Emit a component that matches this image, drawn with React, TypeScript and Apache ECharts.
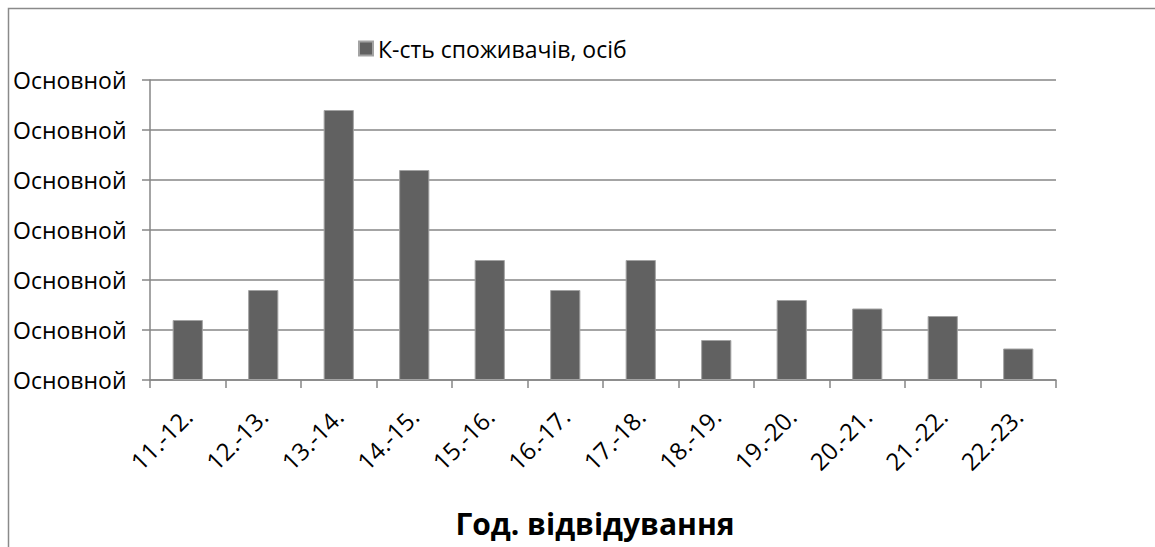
import React, { useEffect, useRef } from "react";
import * as echarts from "echarts";

const categories = ["11.-12.", "12.-13.", "13.-14.", "14.-15.", "15.-16.", "16.-17.", "17.-18.", "18.-19.", "19.-20.", "20.-21.", "21.-22.", "22.-23."];
const consumers = [1.2, 1.8, 5.4, 4.2, 2.4, 1.8, 2.4, 0.8, 1.6, 1.43, 1.28, 0.63];
const yTickLabel = "Основной";
const seriesName = "К-сть споживачів, осіб";
const xAxisTitle = "Год. відвідування";

const FONT = "'Open Sans', sans-serif";

export default function App() {
  const ref = useRef<HTMLDivElement>(null);
  useEffect(() => {
    const chart = echarts.init(ref.current!, null, { renderer: "svg" });
    chart.setOption({
      animation: false,
      backgroundColor: "#ffffff",
      textStyle: { fontFamily: FONT },
      grid: { left: 150, right: 99, top: 80, bottom: 167, containLabel: false },
      legend: {
        left: 353,
        top: 32,
        icon: "rect",
        itemWidth: 14,
        itemHeight: 14,
        itemGap: 6,
        textStyle: { fontSize: 23, color: "#000", fontFamily: FONT },
        data: [seriesName],
      },
      xAxis: {
        type: "category",
        data: categories,
        axisLine: { lineStyle: { color: "#868686", width: 1.5 } },
        axisTick: { show: true, length: 8, alignWithLabel: false, lineStyle: { color: "#868686", width: 1.5 } },
        axisLabel: { rotate: 45, margin: 32, fontSize: 24, color: "#000", fontFamily: FONT, interval: 0 },
        splitLine: { show: false },
      },
      yAxis: {
        type: "value",
        min: 0,
        max: 6,
        interval: 1,
        axisLine: { show: true, lineStyle: { color: "#868686", width: 1.5 } },
        axisTick: { show: true, length: 8, lineStyle: { color: "#868686", width: 1.5 } },
        axisLabel: {
          formatter: () => yTickLabel,
          align: "left",
          margin: 137,
          fontSize: 23,
          color: "#000",
          fontFamily: FONT,
        },
        splitLine: { show: true, lineStyle: { color: "#868686", width: 1.5 } },
      },
      series: [
        {
          name: seriesName,
          type: "bar",
          data: consumers,
          barCategoryGap: "60%",
          itemStyle: { color: "#616161", borderColor: "#a3a3a3", borderWidth: 1 },
        },
      ],
      graphic: [
        {
          type: "rect",
          shape: { x: 8.5, y: 8.5, width: 1300, height: 700 },
          style: { fill: "none", stroke: "#8a8a8a", lineWidth: 1.5 },
          silent: true,
        },
        {
          type: "text",
          x: 595,
          y: 523,
          style: {
            text: xAxisTitle,
            font: `bold 30px ${FONT}`,
            fill: "#000",
            textAlign: "center",
            textVerticalAlign: "middle",
          },
        },
      ],
    });
    return () => chart.dispose();
  }, []);
  return (
    <div
      ref={ref}
      style={{ position: "fixed", left: 0, top: 0, width: 1155, height: 547, background: "#fff" }}
    />
  );
}
